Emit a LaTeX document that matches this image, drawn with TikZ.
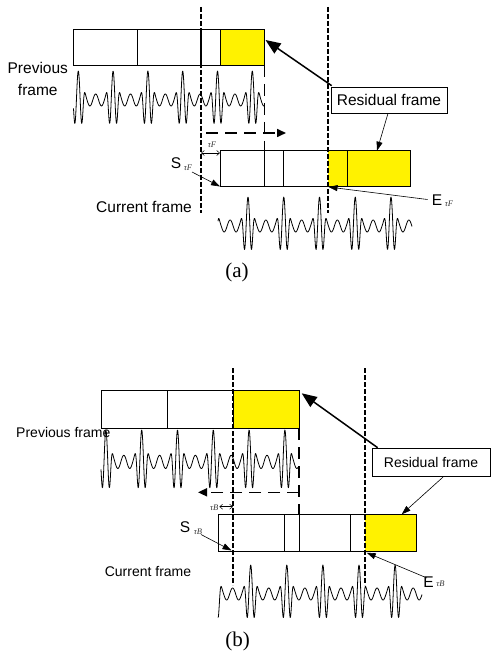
\documentclass[tikz,border=0pt]{standalone}
\usepackage{fontspec}
\setmainfont{Liberation Sans}
\newfontfamily\seriffont{Liberation Serif}
\usetikzlibrary{arrows.meta}
% #1 start, #2 end, #3 first peak x, #4 period, #5 peak y, #6 vertical scale
\newcommand\mywave[6]{\draw[wavesty] plot[domain=#1:#2,samples=600,variable=\t]
  (\t,{#5+29*#6-#6*wv(mod(\t-#3+2.5*#4,#4)-0.5*#4,#4)});}
\begin{document}
\begin{tikzpicture}[x=1pt,y=-1pt,
  box/.style={draw=black,line width=0.7pt},
  ylw/.style={fill=yellow},
  vdash/.style={line width=1.7pt,dash pattern=on 5pt off 2pt},
  hdash/.style={line width=1.6pt,dash pattern=on 12pt off 7pt},
  wavesty/.style={line width=0.8pt,line join=round},
  thickarr/.style={line width=1.5pt,-{Triangle[length=15pt,width=12pt]}},
  thinarr/.style={line width=0.6pt,-{Triangle[length=9pt,width=6pt]}},
  dasharr/.style={hdash,-{Triangle[length=9pt,width=8pt]}},
  dblarr/.style={line width=0.5pt,{Straight Barb[length=3pt,width=5pt]}-{Straight Barb[length=3pt,width=5pt]}},
  lblA/.style={font=\fontsize{15.5}{21.5}\selectfont, inner sep=0pt},
  lblB/.style={font=\fontsize{14}{16}\selectfont, inner sep=0pt},
  resbox/.style={draw=black,line width=0.7pt,fill=white},
  tau/.style={font=\seriffont\itshape\fontsize{8.5}{8.5}\selectfont, text=black!80, inner sep=0pt},
  captxt/.style={font=\seriffont\fontsize{21}{21}\selectfont, inner sep=0pt},
  declare function={
    sq(\u)=min(\u*\u/31.4,5);
    wv(\u,\p)=29*exp(-sq(\u)*sq(\u))*cos(360*(\u/7.6))-6*(1-exp(-min(\u*\u/25,8)))*cos(1080*(\u/\p));}
]
\useasboundingbox (0,0) rectangle (490,652);

% ================= panel (a) =================
% previous frame
\fill[ylw] (220,29.3) rectangle (264.3,65);
\draw[box] (73.7,29.3) rectangle (264.3,65);
\draw[box] (137.3,29.3) -- (137.3,65);
\draw[box] (220,29.3) -- (220,65);
\draw[line width=1.5pt] (201,29.3) -- (201,65);
\mywave{73.5}{264}{78.3}{34.8}{71}{1}
% current frame
\fill[ylw] (328,150.7) rectangle (410.7,186.7);
\draw[box] (220,150.7) rectangle (410.7,186.7);
\draw[box] (264.3,150.7) -- (264.3,186.7);
\draw[box] (283.3,150.7) -- (283.3,186.7);
\draw[line width=1.4pt] (347.3,150.7) -- (347.3,186.7);
\mywave{218}{412}{248}{35.75}{197}{1}
% dashed guides
\draw[vdash] (201,7) -- (201,213);
\draw[vdash] (328,7) -- (328,213);
\draw[hdash] (264.3,65) -- (264.3,150.7);
\coordinate (dAs) at (206,133);
\coordinate (dAe) at (286,133);
\draw[dasharr] (dAs) -- (dAe);
% tau
\coordinate (tAl) at (201,153);
\coordinate (tAr) at (220,153);
\draw[dblarr] (tAl) -- (tAr);
\node[tau] (tauA) at (212,144.5) {τF};
% labels
\node[lblA, align=center] (prevA) at (37.8,79) {Previous\\frame};
\node[lblA] (curA) at (144,207) {Current frame};
\node[lblA] (SA) at (176,163.5) {S};
\node[tau] (SAsub) at (188,168) {τF};
\node[lblA] (EA) at (437,200) {E};
\node[tau] (EAsub) at (449,203.5) {τF};
\node[resbox, lblA, minimum width=116pt, minimum height=26pt] (resA) at (389,100) {Residual frame};
\coordinate (tipA) at (265.5,40);
\coordinate (curAtop) at (377,150.7);
\coordinate (SAs) at (192,172);
\coordinate (SAe) at (220,186.5);
\coordinate (EAs) at (427.5,199.5);
\coordinate (EAe) at (328.5,187);
\draw[thickarr] ([xshift=1pt,yshift=1pt]resA.north west) -- (tipA);
\draw[thinarr] ([xshift=-1pt]resA.south) -- (curAtop);
\draw[thinarr] (SAs) -- (SAe);
\draw[thinarr] (EAs) -- (EAe);
\node[captxt] (capA) at (237,272) {(a)};

% ================= panel (b) =================
\fill[ylw] (233,390.7) rectangle (299,428.3);
\draw[box] (101.7,390.7) rectangle (299,428.3);
\draw[box] (167.3,390.7) -- (167.3,428.3);
\draw[box] (233,390.7) -- (233,428.3);
\mywave{101}{298}{141.7}{35.8}{430}{1.1}
% current frame
\fill[ylw] (365,514.3) rectangle (416.7,551.7);
\draw[box] (218.7,514.3) rectangle (416.7,551.7);
\draw[box] (284.3,514.3) -- (284.3,551.7);
\draw[box] (299,514.3) -- (299,551.7);
\draw[box] (350.7,514.3) -- (350.7,551.7);
\mywave{218}{422}{250.7}{36.1}{565}{1}
% dashed guides
\draw[vdash] (233,368) -- (233,585);
\draw[vdash] (365,368) -- (365,585);
\draw[hdash] (299,428.3) -- (299,514.3);
\coordinate (dBs) at (299,492.3);
\coordinate (dBe) at (198,492.3);
\draw[dasharr] (dBs) -- (dBe);
% tau
\coordinate (tBl) at (219.3,506.7);
\coordinate (tBr) at (233,506.7);
\draw[dblarr] (tBl) -- (tBr);
\node[tau, anchor=east] (tauB) at (218.5,507.5) {τB};
% labels
\node[lblB] (prevB) at (63.3,432) {Previous frame};
\node[lblB] (curB) at (148,571) {Current frame};
\node[lblA] (SB) at (185,527.5) {S};
\node[tau] (SBsub) at (198,532) {τB};
\node[lblA] (EB) at (428.5,582) {E};
\node[tau] (EBsub) at (440.5,583.5) {τB};
\node[resbox, lblB, minimum width=118pt, minimum height=28.7pt] (resB) at (431,462.4) {Residual frame};
\coordinate (tipB) at (301.7,393.3);
\coordinate (curBtop) at (401.7,514.3);
\coordinate (SBs) at (201,534.5);
\coordinate (SBe) at (231.5,550.5);
\coordinate (EBs) at (427,578);
\coordinate (EBe) at (366.7,552.7);
\draw[thickarr] ([xshift=6pt]resB.north west) -- (tipB);
\draw[thinarr] ([xshift=12pt]resB.south) -- (curBtop);
\draw[thinarr] (SBs) -- (SBe);
\draw[thinarr] (EBs) -- (EBe);
\node[captxt] (capB) at (237.7,641) {(b)};
\end{tikzpicture}
\end{document}
